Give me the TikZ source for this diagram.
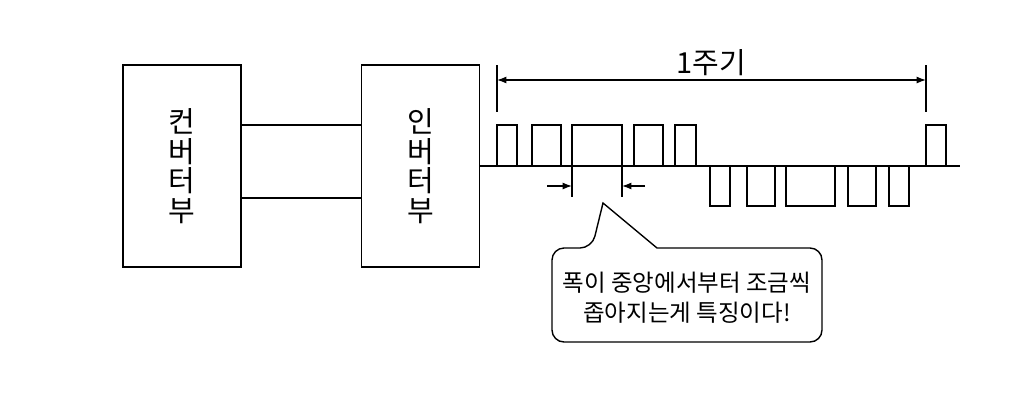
\documentclass[tikz,border=0pt]{standalone}
\usepackage{fontspec}
\newfontfamily\kr{Noto Sans CJK KR}
\usetikzlibrary{positioning,arrows.meta}

\tikzset{
  unitbox/.style={draw, minimum width=118pt, minimum height=202pt, inner sep=0pt,
    align=center, font=\fontsize{29}{29.5}\selectfont\kr},
  notetext/.style={align=center, font=\fontsize{23.5}{30}\selectfont\kr}
}

\begin{document}
\begin{tikzpicture}[x=1pt, y=-1pt, line width=1.4pt, >=Latex]
        \useasboundingbox (0,0) rectangle (1024,416);
        % blocks
        \node[unitbox] (conv) at (182,166) {컨\\버\\터\\부};
        \node[unitbox] (inv) at (420.5,166) {인\\버\\터\\부};
        \draw ([yshift=41pt]conv.east) -- ([yshift=41pt]inv.west);
        \draw ([yshift=-32pt]conv.east) -- ([yshift=-32pt]inv.west);
        \coordinate (lineend) at (960,166);
        \draw (inv.east) -- (lineend);
        % pulses
        \foreach \a/\b in {497/517, 532/561, 572/622, 634/663, 675/696, 926/946}
            \draw (\a,166) -- (\a,125) -- (\b,125) -- (\b,166);
        \foreach \a/\b in {710/730, 747/775, 786/835, 848/876, 889/909}
            \draw (\a,166) -- (\a,206) -- (\b,206) -- (\b,166);
        % one period
        \draw (497,65) -- (497,112);
        \draw (926,65) -- (926,112);
        \draw[<->] (497,80) -- (926,80) node[midway, above=0pt, font=\fontsize{29}{30}\selectfont\kr] (period) {1주기};
        % width marks
        \draw (572,166) -- (572,197);
        \draw (622,166) -- (622,197);
        \draw[->] (547,186) -- (572,186);
        \draw[->] (645,186) -- (622,186);
        % callout
        \draw (603,203) -- (657,248) [rounded corners=12pt] -- (822,248) -- (822,342) -- (552,342) -- (552,248) -- (592,248) [sharp corners] -- cycle;
        \node[notetext] (note) at (687,298) {폭이 중앙에서부터 조금씩\\좁아지는게 특징이다!};
    \end{tikzpicture}
\end{document}
